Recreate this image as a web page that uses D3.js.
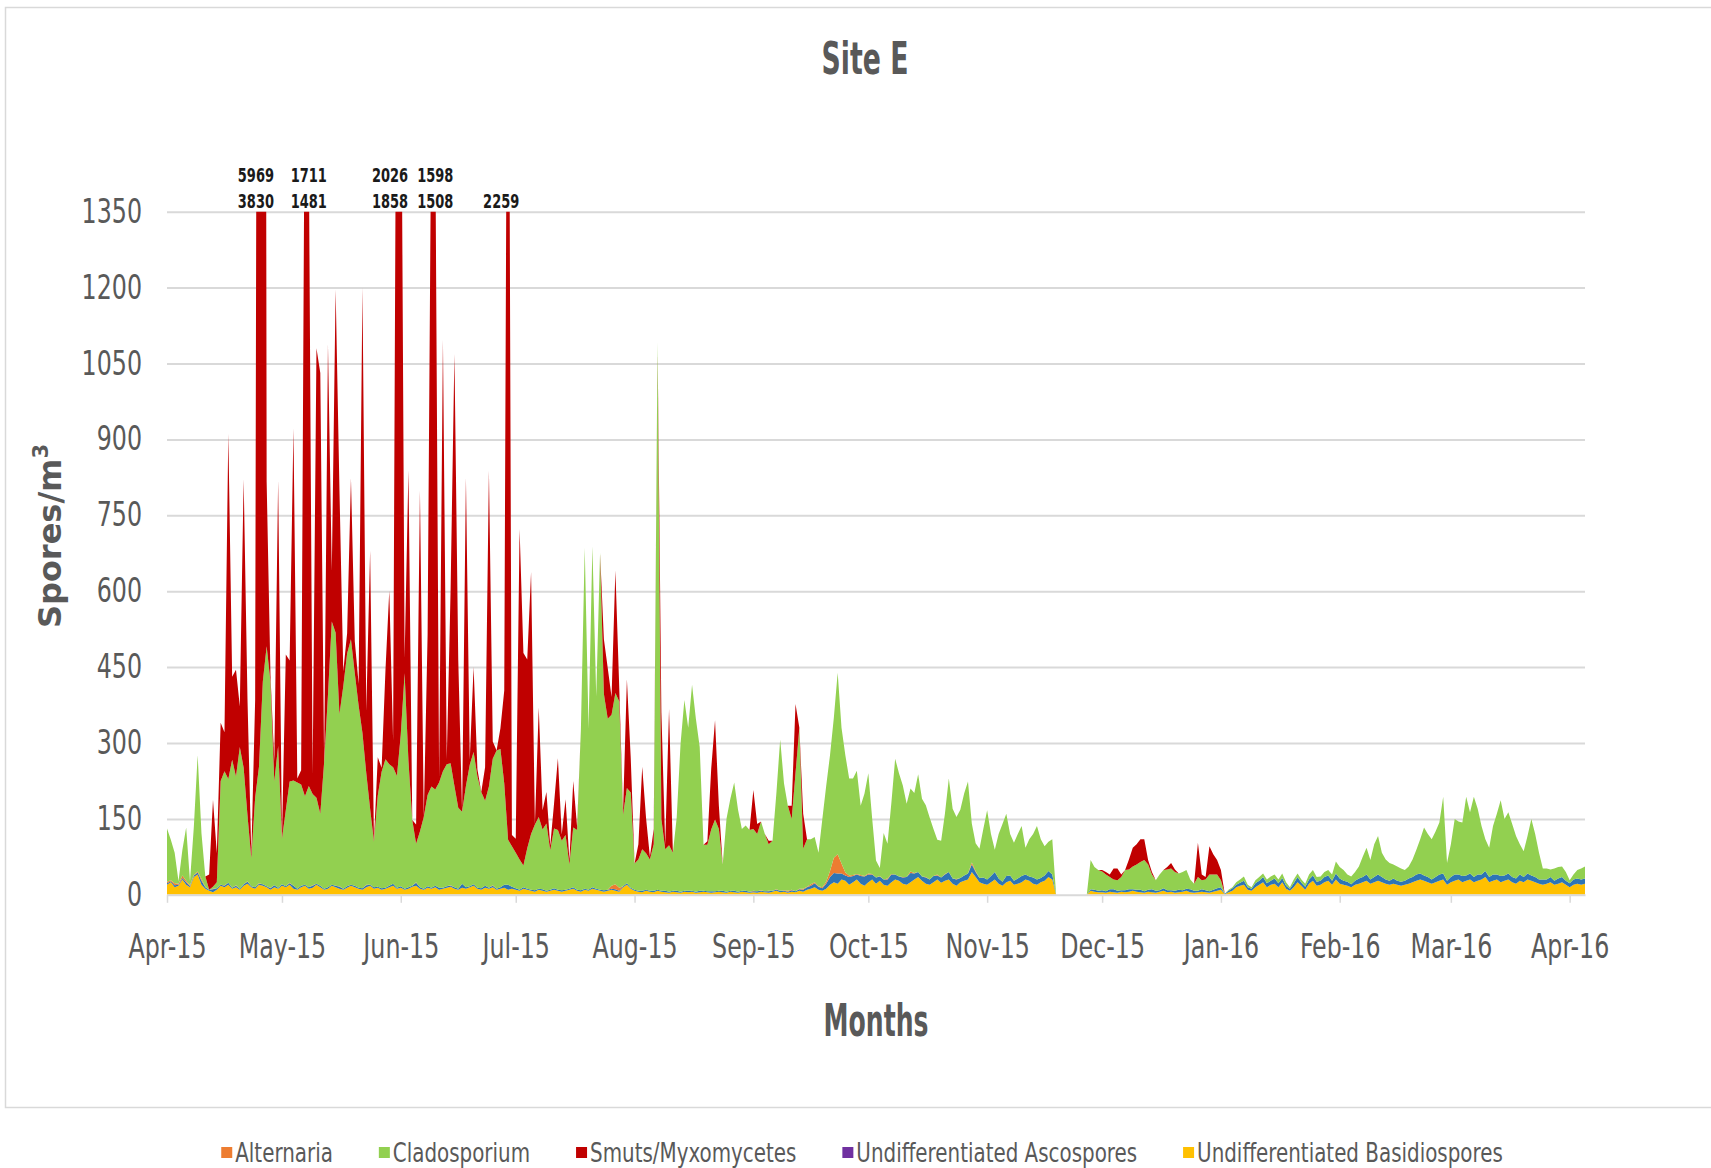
<!DOCTYPE html>
<html lang="en">
<head>
<meta charset="UTF-8">
<title>Site E</title>
<script src="https://d3js.org/d3.v7.min.js"></script>
<style>
  body { margin: 0; background: #fff; }
  svg { display: block; }
  .narrow { font-family: "Liberation Sans Narrow", "DejaVu Sans Condensed", "Arial Narrow", sans-serif; }
</style>
</head>
<body>
<div id="chart"></div>
<script>
// daily counts (spores/m3) from 1 Apr 2015, one value per day, one line per month
const startDay = Date.UTC(2015, 3, 1);

const basidiospores = [
  20,25,15,18,30,20,15,35,40,20,12,8,5,10,18,15,20,12,15,10,18,22,15,12,20,18,15,10,15,12,
  18,15,20,12,10,15,18,12,14,20,15,10,12,18,15,12,10,14,18,15,12,10,15,18,12,14,10,12,15,18,12,
  14,10,12,16,18,12,10,14,12,15,10,12,14,16,12,10,14,12,15,18,12,10,14,12,15,10,12,14,10,12,
  10,8,12,10,8,6,10,8,6,8,10,8,6,8,10,12,8,6,10,8,12,10,8,6,8,10,8,6,15,20,12,
  8,6,5,8,6,5,8,6,5,4,6,5,4,6,5,6,4,5,6,5,4,5,6,5,4,6,5,4,6,5,4,
  5,4,6,5,4,6,8,5,6,4,6,5,8,6,10,12,15,10,8,12,20,25,22,30,28,20,25,30,22,18,
  25,30,22,28,20,18,25,30,28,22,20,25,30,35,28,22,20,25,30,24,28,30,22,18,25,28,30,45,35,25,22,
  20,25,30,22,18,25,28,20,22,25,30,28,22,20,25,28,35,30,0,0,0,0,0,0,0,0,0,8,6,5,
  5,4,6,5,4,6,5,6,8,6,5,4,6,5,4,6,8,5,6,4,5,6,8,5,4,5,6,5,4,6,8,
  10,1,5,8,15,18,20,10,8,15,20,25,15,20,22,15,25,12,8,15,25,18,10,22,28,18,20,25,28,20,30,
  22,20,18,15,20,22,25,28,22,25,28,25,22,20,22,20,18,20,22,25,28,30,28,25,22,25,28,30,20,
  25,28,30,25,28,30,25,28,30,35,25,28,30,25,28,30,25,22,28,25,30,28,25,22,20,22,25,20,22,25,20,
  15,20,22,20,22
];

const ascospores = [
  3,2,4,2,3,5,2,3,4,8,3,2,6,3,2,3,4,2,3,2,3,4,2,3,2,3,2,3,4,2,
  3,2,3,6,2,3,2,3,4,2,3,2,3,2,3,4,2,3,2,3,2,3,4,2,3,2,3,2,3,4,2,
  3,2,3,2,6,3,2,3,2,3,4,2,3,2,3,2,8,3,2,3,2,3,4,2,3,2,3,6,10,4,
  3,2,3,2,2,3,2,3,2,2,3,2,3,2,2,3,2,3,2,2,3,2,2,3,2,2,3,2,2,3,2,
  2,2,3,2,2,3,2,2,3,2,2,3,2,2,3,2,2,3,2,2,3,2,2,3,2,2,3,2,2,3,2,
  2,3,2,2,3,2,2,3,2,2,3,2,3,4,5,6,8,6,5,10,15,18,20,12,10,15,12,10,15,18,
  15,10,12,8,10,12,15,10,8,12,15,18,12,10,8,12,10,12,8,10,12,15,10,12,8,10,12,15,10,8,12,
  10,12,15,10,8,12,10,8,10,12,10,8,12,10,8,10,12,10,0,0,0,0,0,0,0,0,0,3,4,3,
  4,3,5,6,4,3,4,5,3,4,5,3,4,6,4,3,5,4,3,4,5,3,4,6,4,3,5,4,3,4,5,
  5,1,3,5,5,6,8,5,4,8,8,10,8,8,10,8,8,6,4,8,10,6,6,8,10,8,8,10,10,8,12,
  10,8,8,6,8,10,10,12,8,10,12,10,8,8,10,8,8,8,10,10,12,12,10,10,8,10,12,12,8,
  10,12,10,12,10,12,10,12,10,12,10,12,10,12,10,12,10,10,12,10,12,10,10,8,10,8,10,8,10,10,8,
  8,10,10,10,10
];

const alternaria = [
  3,2,4,2,5,3,2,1,2,3,1,0,1,0,0,1,0,0,1,0,0,1,0,0,1,0,0,1,0,0,
  0,0,1,0,0,0,0,0,1,0,0,0,0,0,0,1,0,0,0,0,0,0,1,0,0,0,0,0,0,0,0,
  0,0,0,0,1,0,0,0,0,0,0,0,0,1,0,0,0,0,0,0,0,0,0,0,1,0,0,0,0,0,
  0,0,0,0,0,0,0,0,0,0,0,0,0,0,0,0,0,0,0,0,0,0,0,0,0,6,10,6,0,0,0,
  0,0,0,0,0,0,0,0,0,0,0,0,0,0,0,0,0,0,0,0,0,0,0,0,0,0,0,0,0,0,0,
  1,0,1,0,1,0,1,0,1,2,1,0,1,2,1,3,2,1,2,4,12,30,38,20,6,3,2,1,2,1,
  2,1,0,1,0,2,1,0,0,1,0,3,1,0,0,1,0,0,2,0,1,0,0,1,0,0,0,4,2,0,0,
  0,0,0,0,0,0,0,0,0,0,0,0,0,0,0,0,0,0,0,0,0,0,0,0,0,0,0,0,0,0,
  0,0,0,0,0,0,0,0,0,0,0,0,0,0,0,0,0,0,0,0,0,0,0,0,0,0,0,0,0,0,0,
  0,0,0,0,0,0,0,0,0,0,0,0,0,0,0,0,0,0,0,0,0,0,0,0,0,0,0,0,0,0,0,
  0,0,0,0,0,0,0,0,0,0,0,0,0,0,0,0,0,0,0,0,0,0,0,0,0,0,0,0,0,
  0,0,0,0,0,0,0,0,0,0,0,0,0,0,0,0,0,0,0,0,0,0,0,0,0,0,0,0,0,0,0,
  0,0,0,0,0
];

const cladosporium = [
  105,80,60,5,50,105,8,95,230,90,20,0,4,12,205,225,205,253,215,280,230,130,55,177,230,400,474,407,205,280,
  90,150,200,208,210,200,175,200,180,170,142,250,380,520,500,340,400,460,485,420,360,307,220,150,90,180,230,254,240,230,221,
  300,426,250,130,76,110,142,180,200,190,208,230,241,241,200,160,142,200,240,261,220,190,168,200,250,273,273,200,89,80,
  70,60,43,80,110,130,142,118,133,78,118,118,98,108,48,118,118,318,674,318,674,380,666,388,338,338,378,368,141,188,188,
  52,62,82,72,62,92,1082,142,82,92,75,145,292,377,322,407,342,284,91,92,122,142,122,52,145,182,214,162,122,129,122,
  122,113,136,113,92,99,189,299,211,168,140,233,318,79,94,89,89,66,135,189,229,277,359,268,232,192,191,204,137,163,
  198,110,34,16,92,69,140,229,204,181,145,164,158,193,154,142,123,93,69,73,120,185,138,123,135,162,182,77,55,58,96,
  137,83,44,88,114,123,82,75,88,99,53,74,86,106,77,58,58,70,0,0,0,0,0,0,0,0,0,58,45,41,
  37,33,24,19,21,26,40,39,45,50,55,62,50,29,21,31,36,41,43,37,32,36,37,19,14,27,18,21,33,30,27,
  14,0,2,2,5,6,8,5,3,6,7,7,7,8,8,7,9,7,3,7,7,6,6,10,11,9,8,10,11,12,24,
  23,21,14,15,17,24,40,53,39,65,76,48,40,35,28,28,26,21,24,35,49,68,95,85,80,90,103,152,35,
  65,110,105,106,156,121,159,130,96,63,58,96,120,150,112,121,105,84,60,51,74,112,85,53,22,22,15,24,23,21,17,
  6,10,17,22,24
];

const smuts = [
  0,0,0,0,0,0,0,0,0,0,0,30,172,57,115,77,682,164,211,80,570,230,8,193,3580,5549,326,13,40,525,
  3,308,239,696,8,28,1519,1264,38,888,871,0,693,100,678,443,30,40,318,63,43,880,123,510,3,76,8,175,343,53,1788,
  1542,30,574,0,38,674,0,317,1382,1302,8,853,10,343,854,292,0,609,10,168,14,0,66,624,34,0,41,184,2154,22,
  28,653,420,373,518,0,216,38,62,9,50,142,12,71,8,92,7,0,0,0,0,0,0,108,100,35,242,28,7,215,69,
  0,30,163,70,5,30,0,211,9,269,0,0,0,0,0,0,0,0,0,7,120,196,46,0,0,0,0,0,0,0,0,
  77,20,0,0,7,0,0,0,0,0,26,137,0,69,0,0,0,0,0,0,0,0,0,0,0,0,0,0,0,0,
  0,0,0,0,0,0,0,0,0,0,0,0,0,0,0,0,0,0,0,0,0,0,0,0,0,0,0,0,0,0,0,
  0,0,0,0,0,0,0,0,0,0,0,0,0,0,0,0,0,0,0,0,0,0,0,0,0,0,0,0,0,0,
  3,5,5,22,23,5,0,20,37,40,45,41,9,5,0,0,0,5,11,5,0,0,0,0,0,68,11,5,56,40,29,
  20,0,0,0,0,0,0,0,0,0,0,0,0,0,0,0,0,0,0,0,0,0,0,0,0,0,0,0,0,0,0,
  0,0,0,0,0,0,0,0,0,0,0,0,0,0,0,0,0,0,0,0,0,0,0,0,0,0,0,0,0,
  0,0,0,0,0,0,0,0,0,0,0,0,0,0,0,0,0,0,0,0,0,0,0,0,0,0,0,0,0,0,0,
  0,0,0,0,0
];

// off-scale peaks written above the top gridline
const peakLabelDays = [23.2, 37, 58.2, 70, 87.2];
const peakLabelUpper = ["5969", "1711", "2026", "1598", ""];
const peakLabelLower = ["3830", "1481", "1858", "1508", "2259"];

const yTicks = [0, 150, 300, 450, 600, 750, 900, 1050, 1200, 1350];

// stack order bottom to top, and legend order
const stackKeys = ["basidio", "asco", "alternaria", "clado", "smuts"];
const series = {
  alternaria: { name: "Alternaria", fill: "#ed7d31", swatch: "#ed7d31", values: alternaria },
  clado: { name: "Cladosporium", fill: "#92d050", swatch: "#92d050", values: cladosporium },
  smuts: { name: "Smuts/Myxomycetes", fill: "#c00000", swatch: "#c00000", values: smuts },
  asco: { name: "Undifferentiated Ascospores", fill: "#2e75b6", swatch: "#7030a0", values: ascospores },
  basidio: { name: "Undifferentiated Basidiospores", fill: "#ffc000", swatch: "#ffc000", values: basidiospores }
};
const legendKeys = ["alternaria", "clado", "smuts", "asco", "basidio"];

const W = 1711, H = 1168;
const plot = { left: 167, right: 1585, top: 211.7, bottom: 894.8 };
const grey = "#595959";

// the source font is narrow; squeeze each label horizontally
function squeeze(sel, k) {
  sel.each(function () {
    const w = this.getComputedTextLength();
    d3.select(this).attr("textLength", w * k).attr("lengthAdjust", "spacingAndGlyphs");
  });
}

const rows = cladosporium.map((_, i) => {
  const r = { date: new Date(startDay + i * 864e5) };
  stackKeys.forEach(k => r[k] = series[k].values[i]);
  return r;
});

const svg = d3.select("#chart").append("svg")
  .attr("width", W).attr("height", H);

// chart frame
svg.append("rect")
  .attr("x", 5.5).attr("y", 7.5)
  .attr("width", W).attr("height", 1100)
  .attr("fill", "#fff").attr("stroke", "#d9d9d9").attr("stroke-width", 1.5);

const x = d3.scaleUtc()
  .domain([rows[0].date, rows[rows.length - 1].date])
  .range([plot.left, plot.right]);
const y = d3.scaleLinear().domain([0, 1350]).range([plot.bottom, plot.top]);

// gridlines
svg.append("g")
  .attr("transform", `translate(${plot.left},0)`)
  .call(d3.axisLeft(y).tickValues(yTicks.slice(1)).tickSize(-(plot.right - plot.left)).tickFormat(""))
  .call(g => g.select(".domain").remove())
  .call(g => g.selectAll("line").attr("stroke", "#d9d9d9").attr("stroke-width", 2));

svg.append("defs").append("clipPath").attr("id", "plotClip")
  .append("rect")
  .attr("x", plot.left).attr("y", plot.top)
  .attr("width", plot.right - plot.left).attr("height", plot.bottom - plot.top);

const stacked = d3.stack().keys(stackKeys)(rows);
const area = d3.area()
  .x(d => x(d.data.date))
  .y0(d => y(d[0]))
  .y1(d => y(d[1]));

svg.append("g").attr("clip-path", "url(#plotClip)")
  .selectAll("path")
  .data(stacked)
  .join("path")
  .attr("fill", d => series[d.key].fill)
  .attr("d", area);

// x axis
svg.append("g")
  .attr("class", "narrow")
  .attr("transform", `translate(0,${plot.bottom})`)
  .call(d3.axisBottom(x).ticks(d3.utcMonth.every(1)).tickFormat(d3.utcFormat("%b-%y"))
    .tickSizeInner(8).tickSizeOuter(0).tickPadding(32))
  .call(g => g.select(".domain").attr("stroke", "#d9d9d9").attr("stroke-width", 2))
  .call(g => g.selectAll(".tick line").attr("stroke", "#d9d9d9").attr("stroke-width", 1.5))
  .call(g => g.selectAll("text").attr("fill", grey).attr("font-size", 33)
    .attr("font-family", null).call(squeeze, 0.8));

// y axis labels
svg.append("g")
  .attr("class", "narrow")
  .attr("transform", `translate(${plot.left},0)`)
  .call(d3.axisLeft(y).tickValues(yTicks).tickSize(0).tickPadding(25).tickFormat(d3.format("d")))
  .call(g => g.select(".domain").remove())
  .call(g => g.selectAll("text").attr("fill", grey).attr("font-size", 33)
    .attr("font-family", null).call(squeeze, 0.8));

// peak labels
const peaks = svg.append("g").attr("class", "narrow")
  .attr("font-weight", "bold").attr("font-size", 19).attr("fill", "#1a1a1a")
  .attr("text-anchor", "middle");
const dayX = d => x(new Date(startDay + d * 864e5));
peakLabelDays.forEach((d, i) => {
  peaks.append("text").attr("x", dayX(d)).attr("y", y(1350) - 30).text(peakLabelUpper[i]);
  peaks.append("text").attr("x", dayX(d)).attr("y", y(1350) - 4).text(peakLabelLower[i]);
});
peaks.selectAll("text").call(squeeze, 0.76);

// title and axis titles
svg.append("text").attr("class", "narrow")
  .attr("x", 865).attr("y", 74)
  .attr("text-anchor", "middle").attr("font-weight", "bold").attr("font-size", 44)
  .attr("fill", grey).attr("textLength", 87).attr("lengthAdjust", "spacingAndGlyphs")
  .text("Site E");

svg.append("text").attr("class", "narrow")
  .attr("x", 876).attr("y", 1036)
  .attr("text-anchor", "middle").attr("font-weight", "bold").attr("font-size", 44)
  .attr("fill", grey).attr("textLength", 105).attr("lengthAdjust", "spacingAndGlyphs")
  .text("Months");

const yTitle = svg.append("text")
  .attr("transform", "translate(61,536) rotate(-90)")
  .attr("text-anchor", "middle")
  .attr("font-family", "'DejaVu Sans', 'Open Sans', sans-serif")
  .attr("font-weight", "bold").attr("font-size", 32).attr("fill", grey);
yTitle.append("tspan").text("Spores/m");
yTitle.append("tspan").attr("dy", -13).attr("font-size", 21).text("3");

// legend, centred under the frame
const legend = svg.append("g").attr("class", "narrow").attr("font-size", 26).attr("fill", grey);
const legendGap = 46, legendSqueeze = 0.85;
let lx = 0;
legendKeys.forEach(k => {
  const g = legend.append("g").attr("transform", `translate(${lx},0)`);
  g.append("rect").attr("x", 0).attr("y", -15).attr("width", 11).attr("height", 11)
    .attr("fill", series[k].swatch);
  const t = g.append("text").attr("x", 14).attr("y", 0).text(series[k].name);
  const w = t.node().getComputedTextLength() * legendSqueeze;
  t.attr("textLength", w).attr("lengthAdjust", "spacingAndGlyphs");
  lx += 14 + w + legendGap;
});
const legendWidth = lx - legendGap;
legend.attr("transform", `translate(${862 - legendWidth / 2},${1162})`);
</script>
</body>
</html>
